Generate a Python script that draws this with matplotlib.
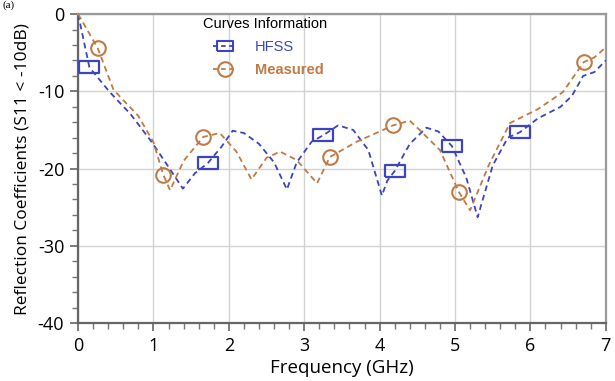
import numpy as np
import matplotlib.pyplot as plt
from matplotlib.lines import Line2D

plt.rcParams["axes.unicode_minus"] = False

# HFSS simulated S11 (GHz, dB)
hfss_freq = [0.0, 0.15, 0.42, 0.70, 0.98, 1.20, 1.39, 1.55, 1.72, 1.90, 2.05, 2.20,
             2.40, 2.60, 2.77, 2.90, 3.10, 3.25, 3.45, 3.65, 3.85, 4.03, 4.10, 4.20,
             4.40, 4.62, 4.78, 4.96, 5.15, 5.30, 5.50, 5.70, 5.86, 6.10, 6.40, 6.55,
             6.70, 6.85, 7.0]
hfss_s11 = [0.0, -6.9, -10.1, -13.0, -16.6, -19.8, -22.6, -20.6, -19.3, -17.2, -15.1, -15.4,
            -16.8, -19.2, -22.7, -19.2, -16.5, -15.7, -14.4, -15.0, -17.6, -23.5, -21.6, -20.3,
            -16.8, -14.7, -15.2, -17.1, -21.2, -26.3, -19.6, -16.0, -15.3, -13.5, -12.0, -10.6,
            -8.0, -7.5, -6.0]
hfss_marks = [0.15, 1.72, 3.25, 4.20, 4.96, 5.86]

# Measured S11 (GHz, dB)
meas_freq = [0.0, 0.26, 0.47, 0.80, 1.00, 1.13, 1.22, 1.40, 1.66, 1.88, 2.10, 2.30,
             2.50, 2.68, 2.90, 3.17, 3.34, 3.70, 4.00, 4.18, 4.40, 4.53, 4.80, 5.05,
             5.20, 5.45, 5.73, 6.10, 6.43, 6.71, 6.85, 7.0]
meas_s11 = [0.0, -4.4, -9.8, -13.2, -16.6, -20.8, -22.8, -19.0, -15.9, -15.4, -17.8, -21.4,
            -18.6, -17.8, -18.9, -21.9, -18.5, -16.5, -15.2, -14.4, -13.8, -15.0, -17.6, -23.0,
            -25.4, -19.5, -14.1, -12.3, -10.1, -6.2, -5.6, -4.3]
meas_marks = [0.26, 1.13, 1.66, 3.34, 4.18, 5.05, 6.71]

BLUE = "#3c44c0"
ORANGE = "#c07a45"

# wide hollow box used for the HFSS markers
box = [(-1, -0.55), (1, -0.55), (1, 0.55), (-1, 0.55), (-1, -0.55)]
dash = (0, (3.2, 2.2))


def mark_index(freq, marks):
    return [freq.index(m) for m in marks]


fig = plt.figure(figsize=(6.15, 3.81), dpi=100)
ax = fig.add_axes([0.127, 0.152, 0.858, 0.811])

ax.plot(hfss_freq, hfss_s11, color=BLUE, ls=dash, lw=1.3,
        marker=box, markevery=mark_index(hfss_freq, hfss_marks),
        ms=14.5, mfc="none", mec=BLUE, mew=1.6, zorder=3)
ax.plot(meas_freq, meas_s11, color=ORANGE, ls=dash, lw=1.3,
        marker="o", markevery=mark_index(meas_freq, meas_marks),
        ms=10.5, mfc="none", mec=ORANGE, mew=1.5, zorder=3)

ax.set_xlim(0, 7)
ax.set_ylim(-40, 0)
ax.set_xticks(range(0, 8))
ax.set_yticks([-40, -30, -20, -10, 0])
ax.set_xticks(np.arange(0, 7.01, 0.2), minor=True)
ax.set_yticks(np.arange(-40, 0.01, 2), minor=True)
ax.grid(True, which="major", color="#d2d2d2", lw=1.0)
ax.set_axisbelow(True)

for side in ["left", "bottom"]:
    ax.spines[side].set_color("#666666")
    ax.spines[side].set_linewidth(1.6)
for side in ["top", "right"]:
    ax.spines[side].set_color("#9a9a9a")
    ax.spines[side].set_linewidth(1.6)

ax.tick_params(which="major", direction="out", length=6, width=1.2,
               color="#666666", labelsize=13, pad=4)
ax.tick_params(which="minor", direction="out", length=4, width=1.0, color="#777777")
for lab in ax.get_xticklabels() + ax.get_yticklabels():
    lab.set_family("Open Sans")

ax.set_xlabel("Frequency (GHz)", fontsize=13.5, family="Open Sans", labelpad=3)
ax.set_ylabel("Reflection Coefficients (S11 < -10dB)", fontsize=12.5,
              family="Open Sans", labelpad=5)

# legend entries sit indented under their own heading
ax.text(0.237, 0.968, "Curves Information", transform=ax.transAxes,
        family="Liberation Sans", fontsize=10.5, va="center", ha="left")
handles = [
    Line2D([], [], color=BLUE, ls=(0, (2.5, 2)), lw=1.3, marker=box, ms=12,
           mfc="none", mec=BLUE, mew=1.5),
    Line2D([], [], color=ORANGE, ls=(0, (2.5, 2)), lw=1.3, marker="o", ms=10.5,
           mfc="none", mec=ORANGE, mew=1.5),
]
leg = ax.legend(handles, ["HFSS", "Measured"],
                loc="upper left", bbox_to_anchor=(0.256, 0.915), frameon=False,
                handlelength=1.65, handletextpad=1.2, labelspacing=0.6,
                borderaxespad=0.0, borderpad=0.0,
                prop={"family": "Liberation Sans", "size": 10.5})
leg.get_texts()[0].set_color(BLUE)
leg.get_texts()[1].set_color(ORANGE)
leg.get_texts()[1].set_fontweight("bold")

fig.text(0.004, 0.998, "(a)", fontsize=8, family="Liberation Serif", va="top")

fig.savefig("out.png", dpi=100)
